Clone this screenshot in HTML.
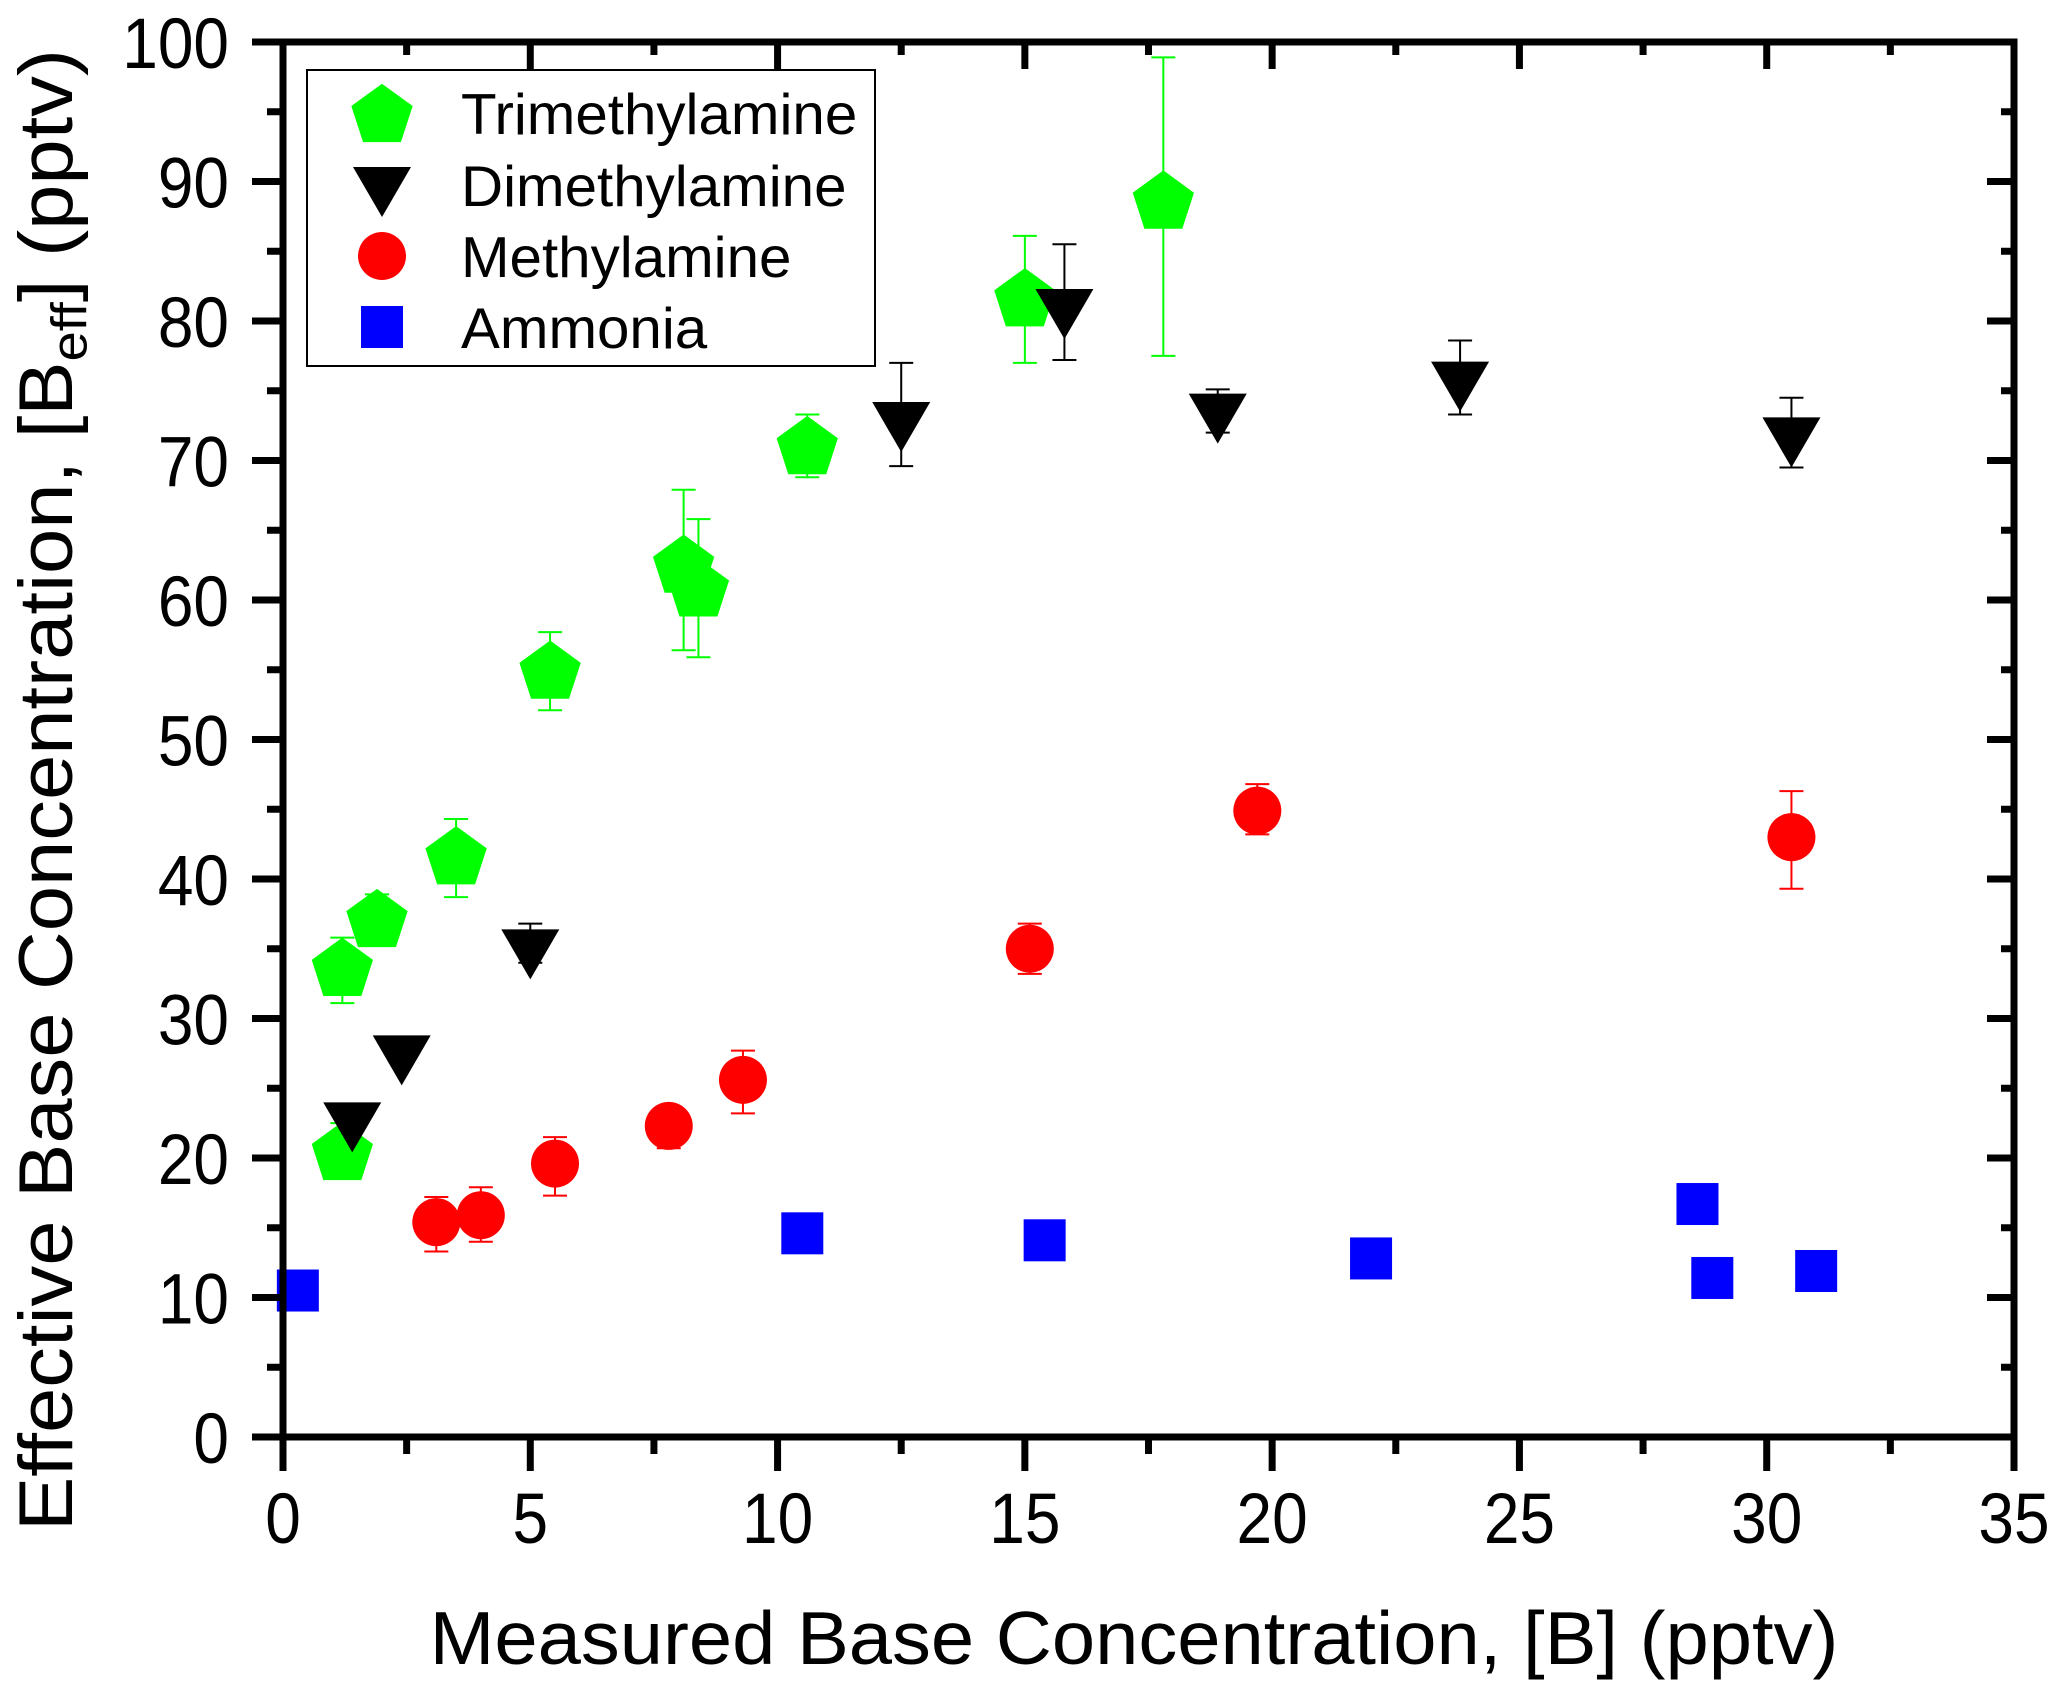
<!DOCTYPE html>
<html><head><meta charset="utf-8"><style>
html,body{margin:0;padding:0;background:#fff;width:2067px;height:1701px;overflow:hidden}
svg{display:block;font-family:"Liberation Sans",Arial,sans-serif}
</style></head><body>
<svg id="chart" width="2067" height="1701" viewBox="0 0 2067 1701" xmlns="http://www.w3.org/2000/svg">
<g id="marks"></g>
<g id="axes"></g>
<text transform="translate(72,790) rotate(-90) scale(1.13,1.05)" text-anchor="middle" font-size="72">Effective Base Concentration,  [B<tspan font-size="48" dy="14">eff</tspan><tspan dy="-14">] (pptv)</tspan></text>
<text transform="translate(1134,1664) scale(1.08,1.05)" text-anchor="middle" font-size="72">Measured Base Concentration, [B] (pptv)</text>
<g id="legend"></g>
</svg>
<script>
const triX=[1.2,1.2,1.9,3.5,5.4,8.1,8.4,10.6,15,17.8];
const triY=[20.5,33.7,37.2,41.7,55,62.6,60.9,71.1,81.7,88.7];
const triLo=[18.5,31.1,35.2,38.7,52.1,56.4,55.9,68.8,77,77.5];
const triHi=[22.5,35.8,38.9,44.3,57.7,67.9,65.8,73.3,86.1,98.9];
const diX=[1.4,2.4,5,12.5,15.8,18.9,23.8,30.5];
const diY=[22.7,27.5,35.1,72.9,81,73.5,75.8,71.8];
const diLo=[22.7,27.5,34,69.6,77.2,72,73.3,69.5];
const diHi=[22.7,27.5,36.8,77,85.5,75.1,78.6,74.5];
const meX=[3.1,4,5.5,7.8,9.3,15.1,19.7,30.5];
const meY=[15.4,15.9,19.6,22.3,25.6,35,44.9,43];
const meLo=[13.3,14,17.3,20.7,23.2,33.2,43.2,39.3];
const meHi=[17.2,17.9,21.5,23.5,27.7,36.8,46.8,46.3];
const amX=[0.3,10.5,15.4,22,28.6,28.9,31];
const amY=[10.5,14.6,14.1,12.8,16.7,11.4,11.9];
const xTicks=[0,5,10,15,20,25,30,35];
const yTicks=[0,10,20,30,40,50,60,70,80,90,100];
const legendLabels=["Trimethylamine","Dimethylamine","Methylamine","Ammonia"];

const L=283,R=2014,T=42,B=1437;
const sx=v=>L+(v-0)/35*(R-L);
const sy=v=>B-(v-0)/100*(B-T);
const NS="http://www.w3.org/2000/svg";
function mk(parent,tag,attrs){const e=document.createElementNS(NS,tag);for(const k in attrs)e.setAttribute(k,attrs[k]);parent.appendChild(e);return e;}
const marks=document.getElementById('marks');
const axes=document.getElementById('axes');
const legend=document.getElementById('legend');

function pent(cx,cy,r){let p=[];for(let i=0;i<5;i++){const a=-Math.PI/2+i*2*Math.PI/5;p.push((cx+r*Math.cos(a)).toFixed(1)+','+(cy+r*Math.sin(a)).toFixed(1));}return p.join(' ');}
function shape(g,type,cx,cy){
  let e;
  if(type==='pent') e=mk(g,'polygon',{points:pent(cx,cy+3,31),fill:'#00ff00',stroke:'#00ff00','stroke-width':2});
  else if(type==='tri') e=mk(g,'polygon',{points:`${cx-29},${cy-18} ${cx+29},${cy-18} ${cx},${cy+32}`,fill:'#000'});
  else if(type==='circ') e=mk(g,'circle',{cx:cx,cy:cy,r:24,fill:'#ff0000'});
  else e=mk(g,'rect',{x:cx-21,y:cy-21,width:42,height:42,fill:'#0000ff'});
  return e;
}
function errbar(g,x,lo,hi,color,name){
  if(hi-lo<=0.01)return;
  const X=sx(x);
  const grp=mk(g,'g',{stroke:color,'stroke-width':2});
  
  
  mk(grp,'line',{x1:X,x2:X,y1:sy(lo),y2:sy(hi)});
  mk(grp,'line',{x1:X-12,x2:X+12,y1:sy(lo),y2:sy(lo)});
  mk(grp,'line',{x1:X-12,x2:X+12,y1:sy(hi),y2:sy(hi)});
}
function series(xs,ys,lo,hi,type,color,name){
  const g=mk(marks,'g',{});
  
  
  xs.forEach((x,i)=>{
    if(lo) errbar(g,x,lo[i],hi[i],color,name+'-error-bar');
    const e=shape(g,type,sx(x),sy(ys[i]));
    
    
  });
}
series(amX,amY,null,null,'sq','#0000ff','ammonia');
series(meX,meY,meLo,meHi,'circ','#ff0000','methylamine');
series(triX,triY,triLo,triHi,'pent','#00ff00','trimethylamine');
series(diX,diY,diLo,diHi,'tri','#000000','dimethylamine');

const fr=mk(axes,'rect',{x:L,y:T,width:R-L,height:B-T,fill:'none',stroke:'#000','stroke-width':7});


for(let v=0;v<=35;v+=2.5){
  const X=sx(v),maj=(v%5===0);
  mk(axes,'line',{x1:X,x2:X,y1:B,y2:B+(maj?34:17),stroke:'#000','stroke-width':7});
  mk(axes,'line',{x1:X,x2:X,y1:T,y2:T+(maj?27:13),stroke:'#000','stroke-width':7});
}
xTicks.forEach(v=>{
  const t=mk(axes,'text',{transform:`translate(${sx(v)},1543) scale(1,1.12)`,'text-anchor':'middle','font-size':64});
  t.textContent=v;
  
  
});
for(let v=0;v<=100;v+=5){
  const Y=sy(v),maj=(v%10===0);
  mk(axes,'line',{x1:L-(maj?31:16),x2:L,y1:Y,y2:Y,stroke:'#000','stroke-width':7});
  mk(axes,'line',{x1:R-(maj?27:13),x2:R,y1:Y,y2:Y,stroke:'#000','stroke-width':7});
}
yTicks.forEach(v=>{
  const t=mk(axes,'text',{transform:`translate(229,${sy(v)+26}) scale(1,1.12)`,'text-anchor':'end','font-size':64});
  t.textContent=v;
  
  
});
const lb=mk(legend,'rect',{x:307,y:70,width:568,height:296,fill:'#fff',stroke:'#000','stroke-width':2});


const types=['pent','tri','circ','sq'];
const ly=[113,185,256,327];
legendLabels.forEach((s,i)=>{
  const m=shape(legend,types[i],382,ly[i]);
  
  
  const t=mk(legend,'text',{transform:`translate(461,${ly[i]+21}) scale(1.1,1.08)`,'font-size':53});
  t.textContent=s;
  
  
});
</script>
</body></html>
